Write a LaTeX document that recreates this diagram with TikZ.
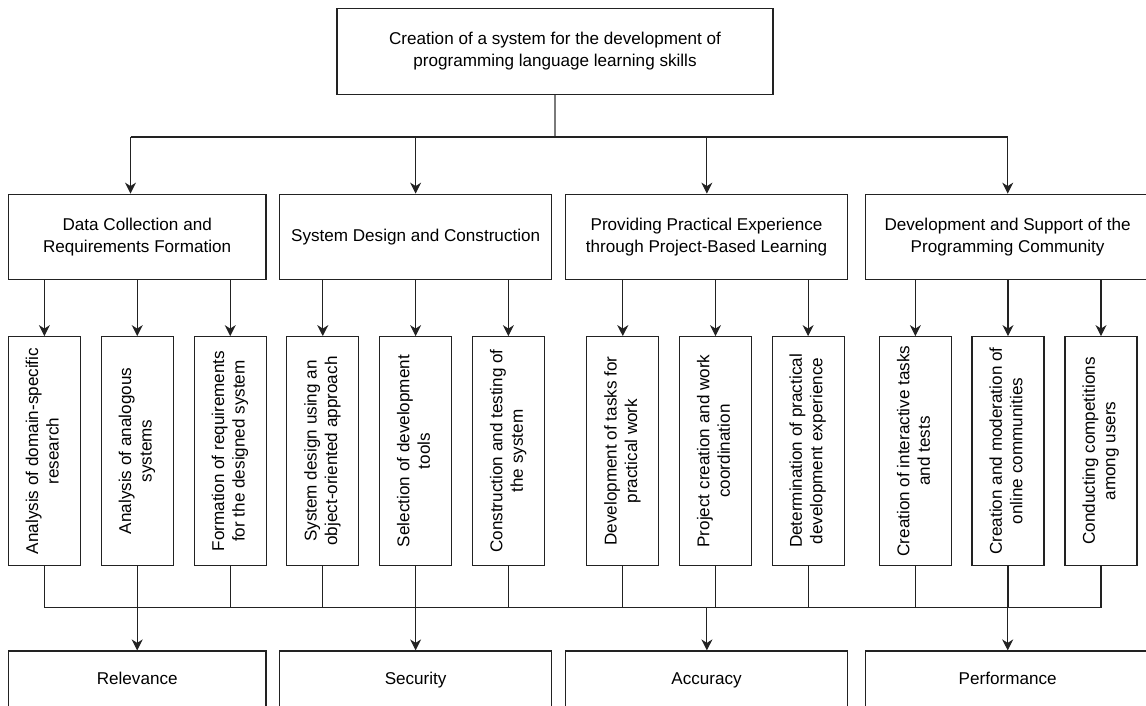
\documentclass[tikz,border=0pt]{standalone}
\usepackage{fontspec}
\setmainfont{Liberation Sans}
\usetikzlibrary{arrows.meta}
\definecolor{ln}{HTML}{222222}
\definecolor{stemc}{HTML}{7A7A7A}
\newcommand{\vtext}[1]{\rotatebox{90}{\begin{tabular}{@{}c@{}}#1\end{tabular}}}
\begin{document}
\begin{tikzpicture}[x=1pt,y=-1pt,
  box/.style={draw=ln, line width=1.2pt, rectangle, inner sep=0pt, align=center,
    font=\fontsize{17.1}{22}\selectfont},
  midbox/.style={box, minimum height=85},
  smallbox/.style={box, minimum width=72, minimum height=228.6,
    font=\fontsize{17.1}{20.5}\selectfont},
  botbox/.style={box, minimum height=58, text height=12.4pt, text depth=3.6pt},
  conn/.style={draw=ln, line width=1.1pt},
  stem/.style={draw=stemc, line width=2pt},
  arr/.style={conn, -{Stealth[length=11pt,width=11pt,inset=3.5pt]}},
]
\useasboundingbox (0,0) rectangle (1146,706);
\clip (0,0) rectangle (1146,706);

% top
\node[box, minimum width=436, minimum height=86] (top) at (555,51.3)
  {Creation of a system for the development of\\programming language learning skills};

% middle level
\node[midbox, minimum width=257.6] (A) at (137.2,236.7) {Data Collection and\\Requirements Formation};
\node[midbox, minimum width=271.7] (B) at (415.65,236.7) {System Design and Construction};
\node[midbox, minimum width=282.3] (C) at (706.55,236.7) {Providing Practical Experience\\through Project-Based Learning};
\node[midbox, minimum width=284.7] (D) at (1007.65,236.7) {Development and Support of the\\Programming Community};

% small boxes
\node[smallbox] (s1) at (44.4,451) {\vtext{Analysis of domain-specific\\research}};
\node[smallbox] (s2) at (137.2,451) {\vtext{Analysis of analogous\\systems}};
\node[smallbox] (s3) at (230.2,451) {\vtext{Formation of requirements\\for the designed system}};
\node[smallbox] (s4) at (322.8,451) {\vtext{System design using an\\object-oriented approach}};
\node[smallbox] (s5) at (415.6,451) {\vtext{Selection of development\\tools}};
\node[smallbox] (s6) at (508.4,451) {\vtext{Construction and testing of\\the system}};
\node[smallbox] (s7) at (622.8,451) {\vtext{Development of tasks for\\practical work}};
\node[smallbox] (s8) at (715.5,451) {\vtext{Project creation and work\\coordination}};
\node[smallbox] (s9) at (808.1,451) {\vtext{Determination of practical\\development experience}};
\node[smallbox] (s10) at (915.4,451) {\vtext{Creation of interactive tasks\\and tests}};
\node[smallbox] (s11) at (1008,451) {\vtext{Creation and moderation of\\online communities}};
\node[smallbox] (s12) at (1101,451) {\vtext{Conducting competitions\\among users}};

% bottom boxes
\node[botbox, minimum width=257.6] (R) at (137.2,680) {Relevance};
\node[botbox, minimum width=271.7] (S) at (415.65,680) {Security};
\node[botbox, minimum width=282.3] (Ac) at (706.55,680) {Accuracy};
\node[botbox, minimum width=284.7] (P) at (1007.65,680) {Performance};

% top to middle
\coordinate (hub) at (555,137);
\coordinate (ja) at (130.5,137);
\coordinate (jb) at (415.65,137);
\coordinate (jc) at (706.9,137);
\coordinate (jd) at (1007.7,137);
\draw[stem] (top.south) -- (hub);
\draw[conn] (ja) -- (jd);
\draw[arr] (ja) -- (ja |- A.north);
\draw[arr] (jb) -- (B.north);
\draw[arr] (jc) -- (jc |- C.north);
\draw[arr] (jd) -- (jd |- D.north);

% middle to small
\foreach \p/\c in {A/s1,A/s2,A/s3,B/s4,B/s5,B/s6,C/s7,C/s8,C/s9,D/s10,D/s11,D/s12}
  \draw[arr] (\p.south -| \c.north) -- (\c.north);

% small to bottom
\coordinate (lb) at (0,607.7);
\foreach \c in {s1,s2,s3,s4,s5,s6,s7,s8,s9,s10,s11,s12}
  \draw[conn] (\c.south) -- (\c |- lb);
\draw[conn] (s1 |- lb) -- (s12 |- lb);
\coordinate (jr) at (137.2,607.7);
\coordinate (js) at (415.6,607.7);
\coordinate (jac) at (706.9,607.7);
\coordinate (jp) at (1007.7,607.7);
\draw[arr] (jr) -- (jr |- R.north);
\draw[arr] (js) -- (js |- S.north);
\draw[arr] (jac) -- (jac |- Ac.north);
\draw[arr] (jp) -- (jp |- P.north);
\end{tikzpicture}
\end{document}
